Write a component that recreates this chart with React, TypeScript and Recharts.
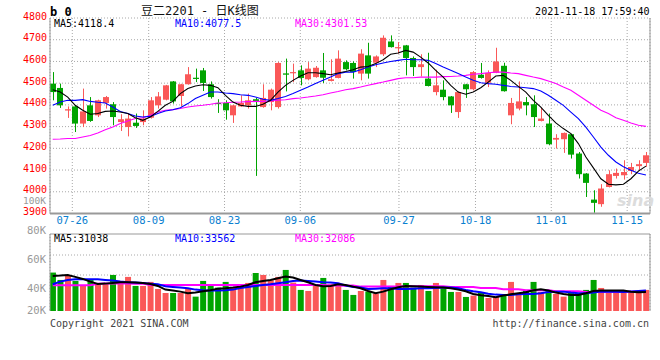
import React from "react";
import {
  ComposedChart,
  Bar,
  Line,
  Cell,
  XAxis,
  YAxis,
  CartesianGrid,
  ReferenceLine,
} from "recharts";

// daily k-line, 80 sessions
const OPEN = [
  4498, 4478, 4374, 4393, 4314, 4398, 4352, 4409, 4403, 4321, 4298, 4318, 4321, 4341, 4398, 4424, 4508, 4441, 4495, 4525,
  4559, 4495, 4409, 4409, 4352, 4393, 4398, 4426, 4390, 4413, 4390, 4545, 4547, 4559, 4518, 4528, 4559, 4510, 4524, 4597,
  4593, 4544, 4628, 4594, 4633, 4692, 4663, 4674, 4616, 4574, 4521, 4459, 4470, 4439, 4367, 4495, 4472, 4539, 4502, 4548,
  4580, 4352, 4383, 4413, 4403, 4326, 4314, 4240, 4242, 4265, 4176, 4084, 3964, 3943, 4022, 4073, 4076, 4096, 4118, 4133,
];
const HIGH = [
  4551, 4498, 4393, 4398, 4475, 4436, 4424, 4441, 4413, 4357, 4360, 4360, 4375, 4436, 4459, 4492, 4510, 4497, 4574, 4567,
  4570, 4508, 4426, 4421, 4400, 4444, 4452, 4432, 4495, 4475, 4597, 4613, 4590, 4582, 4597, 4579, 4639, 4610, 4651, 4605,
  4600, 4656, 4686, 4628, 4720, 4720, 4689, 4676, 4623, 4633, 4640, 4562, 4513, 4441, 4462, 4497, 4556, 4593, 4559, 4663,
  4594, 4432, 4508, 4436, 4444, 4387, 4360, 4265, 4273, 4267, 4183, 4086, 4007, 4035, 4099, 4107, 4145, 4133, 4145, 4183,
];
const LOW = [
  4421, 4386, 4340, 4275, 4298, 4322, 4344, 4383, 4306, 4280, 4255, 4294, 4306, 4337, 4383, 4421, 4406, 4393, 4493, 4505,
  4464, 4429, 4363, 4332, 4317, 4391, 4383, 4073, 4387, 4375, 4383, 4462, 4505, 4490, 4513, 4525, 4501, 4508, 4522, 4559,
  4521, 4513, 4521, 4574, 4625, 4664, 4636, 4536, 4533, 4531, 4485, 4444, 4421, 4363, 4340, 4432, 4467, 4521, 4482, 4546,
  4461, 4311, 4375, 4352, 4298, 4324, 4214, 4199, 4179, 4153, 4061, 3976, 3903, 3931, 4020, 4061, 4056, 4081, 4099, 4115,
];
const CLOSE = [
  4459, 4398, 4380, 4314, 4370, 4326, 4421, 4436, 4344, 4334, 4337, 4303, 4337, 4421, 4439, 4490, 4416, 4495, 4541, 4522,
  4501, 4436, 4406, 4375, 4398, 4409, 4421, 4413, 4432, 4470, 4593, 4539, 4551, 4524, 4567, 4571, 4525, 4518, 4613, 4564,
  4551, 4636, 4544, 4623, 4709, 4666, 4666, 4616, 4574, 4587, 4487, 4490, 4436, 4398, 4459, 4472, 4551, 4524, 4547, 4600,
  4463, 4409, 4416, 4398, 4344, 4337, 4219, 4248, 4271, 4171, 4081, 4041, 3949, 4015, 4081, 4087, 4091, 4114, 4127, 4168,
];
const MA5 = [
  4470, 4459, 4436, 4398, 4375, 4357, 4360, 4370, 4372, 4367, 4360, 4341, 4329, 4344, 4370, 4398, 4416, 4452, 4475, 4487,
  4493, 4490, 4479, 4444, 4413, 4398, 4393, 4393, 4403, 4421, 4459, 4490, 4513, 4533, 4548, 4548, 4544, 4539, 4547, 4554,
  4562, 4574, 4577, 4590, 4608, 4633, 4639, 4651, 4643, 4620, 4593, 4559, 4528, 4490, 4459, 4449, 4459, 4479, 4505, 4533,
  4536, 4513, 4485, 4459, 4421, 4390, 4352, 4317, 4291, 4268, 4222, 4160, 4110, 4060, 4035, 4032, 4035, 4060, 4095, 4118,
];
const MA10 = [
  4398, 4413, 4421, 4421, 4424, 4416, 4412, 4409, 4390, 4370, 4360, 4349, 4344, 4347, 4360, 4372, 4378, 4387, 4406, 4429,
  4444, 4459, 4459, 4455, 4452, 4447, 4444, 4436, 4426, 4421, 4429, 4439, 4452, 4467, 4482, 4498, 4513, 4528, 4544, 4551,
  4551, 4562, 4574, 4585, 4593, 4600, 4605, 4610, 4608, 4608, 4605, 4590, 4574, 4559, 4544, 4528, 4513, 4502, 4498, 4495,
  4490, 4485, 4482, 4479, 4475, 4464, 4444, 4421, 4398, 4367, 4337, 4298, 4252, 4206, 4168, 4137, 4115, 4099, 4085, 4077,
];
const MA30 = [
  4242, 4243, 4245, 4245, 4252, 4259, 4271, 4286, 4298, 4314, 4326, 4337, 4341, 4352, 4367, 4375, 4378, 4383, 4390, 4395,
  4398, 4403, 4409, 4410, 4412, 4413, 4415, 4416, 4416, 4418, 4421, 4424, 4429, 4432, 4436, 4441, 4447, 4455, 4462, 4470,
  4475, 4482, 4490, 4498, 4505, 4513, 4521, 4525, 4525, 4528, 4528, 4528, 4530, 4531, 4533, 4536, 4541, 4544, 4548, 4551,
  4551, 4547, 4544, 4536, 4528, 4521, 4510, 4498, 4482, 4467, 4444, 4421, 4398, 4375, 4360, 4341, 4329, 4317, 4306, 4301,
];

// volume in thousands of lots
const VOLUME_K = [
  62.9, 50.8, 57.9, 49.2, 41, 50.8, 42.6, 44.8, 59, 45.4, 55.8, 41, 41, 47.6, 36.1, 29.5, 29.5, 29.5, 37.2, 23.5,
  49.2, 41, 38.3, 47.6, 38.3, 42.6, 45.9, 62.3, 59, 50.3, 55.8, 67.2, 46.5, 34.5, 32.8, 42.6, 54.1, 43.7, 43.7, 34.5,
  26.3, 32.8, 31.7, 28.4, 50.8, 41, 45.9, 45.9, 38.3, 42.6, 32.8, 45.9, 37.2, 31.2, 31.2, 23, 25.2, 29.5, 21.3, 23,
  25.2, 47.6, 29, 34.5, 47.6, 31.2, 34.5, 27.9, 23.5, 29.5, 27.9, 34.5, 50.8, 37.7, 29.5, 31.2, 31.2, 29.5, 29.5, 34.5,
];
const VOL_MA5 = [
  57.4, 58, 59, 55.8, 52.5, 48.1, 44.3, 44.8, 45.9, 47, 47, 46.5, 45.9, 44.3, 41, 35, 33.4, 31.7, 29, 30.1,
  32.3, 33.9, 36.6, 37.2, 38.3, 39.9, 42.6, 47, 49.2, 50.8, 53.6, 56.3, 54.7, 50.8, 47, 42.6, 40.5, 41, 43.7, 42.6,
  39.9, 37.2, 32.8, 29, 31.7, 35.5, 38.8, 41, 40.5, 39.9, 39.4, 38.8, 38.3, 37.2, 35, 32.3, 27.9, 25.7, 24.6, 22.4,
  25.2, 27.3, 29, 30.6, 33.9, 35.5, 33.4, 30.1, 27.9, 26.3, 26.3, 29, 32.8, 33.4, 33.4, 33.4, 33.4, 31.5, 30.8, 31,
];
const VOL_MA10 = [
  43.7, 48.1, 50.8, 51.9, 51.9, 51.9, 51.9, 50.8, 49.8, 48.1, 47, 46.5, 45.9, 44.8, 43.7, 40.5, 39.4, 38.3, 37.2, 35,
  33.9, 33.4, 33.4, 33.9, 35, 37.7, 39.4, 41, 42.6, 43.7, 45.4, 47, 49.2, 49.8, 49.2, 48.1, 47, 46.5, 45.4, 41.6,
  39.4, 38.3, 36.1, 36.6, 37.2, 37.2, 36.1, 36.1, 36.6, 37.2, 37.2, 37.7, 38.3, 38.3, 37.2, 34.5, 32.3, 30.6, 28.4, 26.8,
  26.3, 26.3, 27.3, 27.9, 27.9, 29, 31.2, 31.7, 31.7, 30.1, 29, 29, 30.1, 31.7, 31.7, 31.5, 31.2, 32, 32.8, 33.6,
];
const VOL_MA30 = [
  42.1, 42.1, 42.2, 42.1, 42.0, 42.1, 44.6, 44.8, 44.8, 44.9, 44.8, 44.7, 44.8, 42.6, 42.6, 42.5, 42.6, 42.6, 42.7, 42.6,
  42.6, 42.5, 42.6, 42.6, 42.6, 42.7, 42.6, 42.6, 42.6, 42.5, 42.6, 42.6, 42.7, 42.6, 42.6, 42.6, 42.5, 41.6, 41.6, 41.5,
  41.6, 39.9, 39.9, 39.9, 40, 39.9, 39.9, 40.5, 40.5, 40.5, 40.4, 40.5, 40.5, 39.4, 39.4, 39.4, 39.3, 37.7, 37.7, 37.7,
  35.5, 35.5, 35.4, 33.9, 33.9, 33.9, 33.9, 32.3, 32.3, 32.3, 32.2, 31.2, 31.2, 31.2, 31.3, 31.2, 31.4, 31.6, 31.9, 32.1,
];

// x axis labels and where their grid lines fall (in session index units)
const TICK_LABELS = ["07-26", "08-09", "08-23", "09-06", "09-27", "10-18", "11-01", "11-15"];
const TICK_AT = [2.61, 12.78, 22.88, 32.97, 46.11, 56.3, 66.39, 76.5];
const PRICE_TICKS = [3900, 4000, 4100, 4200, 4300, 4400, 4500, 4600, 4700, 4800];
const VOL_LABELS = ["100K", "80K", "60K", "40K", "20K"];
const VOL_LABEL_Y = [203.6, 234, 263.3, 291.7, 314.3];

const X_MIN = -0.36;
const X_MAX = 79.54;
const VOL_TOP = 126;

const RED = "#fa5858";
const GREEN = "#00a400";
const GRID = "#a8a8a8";
const FRAME = "#999999";
const MONO = "'DejaVu Sans Mono', 'Liberation Mono', monospace";

const data = OPEN.map((o, i) => ({
  idx: i,
  open: o,
  high: HIGH[i],
  low: LOW[i],
  close: CLOSE[i],
  range: [LOW[i], HIGH[i]],
  ma5: MA5[i],
  ma10: MA10[i],
  ma30: MA30[i],
  vol: VOLUME_K[i],
  vma5: VOL_MA5[i],
  vma10: VOL_MA10[i],
  vma30: VOL_MA30[i],
}));

const Candle = (props: any) => {
  const { x, y, width, height, payload } = props;
  if (x == null || y == null) return null;
  const { open, close, high, low } = payload;
  const color = close >= open ? RED : GREEN;
  const k = height / (high - low || 1);
  const top = y + (high - Math.max(open, close)) * k;
  const bot = y + (high - Math.min(open, close)) * k;
  const cx = Math.round(x + width / 2) + 0.5;
  return (
    <g>
      <line x1={cx} x2={cx} y1={y} y2={y + height} stroke={color} strokeWidth={1} />
      <rect x={Math.round(x)} y={top} width={width} height={Math.max(bot - top, 1.2)} fill={color} />
    </g>
  );
};

const PriceTick = ({ y, payload }: any) => (
  <text x={47} y={y + 1.5} textAnchor="end" fill="#f00" fontSize={10} fontFamily={MONO}>
    {payload.value}
  </text>
);

const DateTick = ({ x, payload }: any) => {
  const i = TICK_AT.indexOf(payload.value);
  return (
    <text x={x} y={224} textAnchor="middle" fill="#0a80d0" fontSize={10.5} fontFamily={MONO}>
      {TICK_LABELS[i]}
    </text>
  );
};

function PriceChart() {
  return (
    <ComposedChart
      width={660}
      height={235}
      data={data}
      margin={{ top: 18, right: 10, bottom: 0, left: 0 }}
    >
      <CartesianGrid stroke={GRID} strokeDasharray="1 2" />
      <XAxis
        dataKey="idx"
        type="number"
        domain={[X_MIN, X_MAX]}
        allowDataOverflow
        ticks={TICK_AT}
        interval={0}
        tick={<DateTick />}
        tickLine={false}
        axisLine={{ stroke: FRAME, strokeWidth: 2 }}
        height={21.5}
      />
      <YAxis
        type="number"
        domain={[3900, 4800]}
        allowDataOverflow
        ticks={PRICE_TICKS}
        interval={0}
        tick={<PriceTick />}
        tickLine={false}
        axisLine={{ stroke: FRAME }}
        width={50}
      />
      <ReferenceLine x={X_MAX} stroke={FRAME} />
      <Bar dataKey="range" shape={<Candle />} barSize={6} isAnimationActive={false} />
      <Line type="linear" dataKey="ma30" stroke="#ff00ff" strokeWidth={1.1} dot={false} isAnimationActive={false} />
      <Line type="linear" dataKey="ma10" stroke="#0000ff" strokeWidth={1.1} dot={false} isAnimationActive={false} />
      <Line type="linear" dataKey="ma5" stroke="#000000" strokeWidth={1.1} dot={false} isAnimationActive={false} />
    </ComposedChart>
  );
}

function VolumeChart() {
  return (
    <ComposedChart
      width={660}
      height={313}
      data={data}
      margin={{ top: 234, right: 10, bottom: 2, left: 0 }}
    >
      <CartesianGrid stroke={GRID} strokeDasharray="1 2" horizontalPoints={[255, 275]} />
      <XAxis
        dataKey="idx"
        type="number"
        domain={[X_MIN, X_MAX]}
        allowDataOverflow
        ticks={TICK_AT}
        interval={0}
        tick={false}
        tickLine={false}
        axisLine={{ stroke: FRAME, strokeWidth: 2 }}
        height={0}
      />
      <YAxis
        type="number"
        domain={[0, VOL_TOP]}
        allowDataOverflow
        tick={false}
        tickLine={false}
        axisLine={{ stroke: FRAME }}
        width={50}
      />
      <ReferenceLine x={X_MAX} stroke={FRAME} />
      <ReferenceLine y={VOL_TOP} stroke={FRAME} />
      <Bar dataKey="vol" barSize={6} isAnimationActive={false}>
        {data.map((d, i) => (
          <Cell key={i} fill={d.close >= d.open ? RED : GREEN} />
        ))}
      </Bar>
      <Line type="linear" dataKey="vma30" stroke="#ff00ff" strokeWidth={2} dot={false} isAnimationActive={false} />
      <Line type="linear" dataKey="vma10" stroke="#0000ff" strokeWidth={2} dot={false} isAnimationActive={false} />
      <Line type="linear" dataKey="vma5" stroke="#000000" strokeWidth={2} dot={false} isAnimationActive={false} />
    </ComposedChart>
  );
}

function Labels() {
  return (
    <svg width={660} height={360} style={{ position: "absolute", left: 0, top: 0, pointerEvents: "none" }}>
      <text x={50} y={15.5} fontSize={12} fontWeight="bold" fontFamily={MONO} fill="#000">
        b 0
      </text>
      <text x={141} y={15} fontSize={12} fontFamily={"'DejaVu Sans Mono', 'Noto Sans CJK SC', monospace"} fill="#111">
        豆二2201 - 日K线图
      </text>
      <text x={649.5} y={15} textAnchor="end" fontSize={10} fontFamily={MONO} fill="#000">
        2021-11-18 17:59:40
      </text>

      <text x={54} y={27.3} fontSize={10} fontFamily={MONO} fill="#000">MA5:4118.4</text>
      <text x={175} y={27.3} fontSize={10} fontFamily={MONO} fill="#0000ff">MA10:4077.5</text>
      <text x={295} y={27.3} fontSize={10} fontFamily={MONO} fill="#ff00ff">MA30:4301.53</text>

      <text x={54} y={241.7} fontSize={10} fontFamily={MONO} fill="#000">MA5:31038</text>
      <text x={175} y={241.7} fontSize={10} fontFamily={MONO} fill="#0000ff">MA10:33562</text>
      <text x={295} y={241.7} fontSize={10} fontFamily={MONO} fill="#ff00ff">MA30:32086</text>

      {VOL_LABELS.map((t, i) => (
        <text key={t} x={46} y={VOL_LABEL_Y[i]} textAnchor="end" fontSize={i === 0 ? 9.5 : 10.5} fontFamily={MONO} fill="#999">
          {t}
        </text>
      ))}

      <text x={617} y={206} fontSize={16} fontStyle="italic" fontWeight="bold" fontFamily="'DejaVu Sans', sans-serif" fill="#dcdcdc">
        sina
      </text>

      <text x={50} y={327} fontSize={10} fontFamily={MONO} fill="#444">
        Copyright 2021 SINA.COM
      </text>
      <text x={649} y={327} textAnchor="end" fontSize={10} fontFamily={MONO} fill="#444">
        http://finance.sina.com.cn
      </text>
    </svg>
  );
}

export default function App() {
  return (
    <div style={{ position: "absolute", left: 0, top: 0, width: 660, height: 360, background: "#fff", overflow: "hidden" }}>
      <div style={{ position: "absolute", left: 0, top: 0 }}>
        <VolumeChart />
      </div>
      <div style={{ position: "absolute", left: 0, top: 0 }}>
        <PriceChart />
      </div>
      <Labels />
    </div>
  );
}
